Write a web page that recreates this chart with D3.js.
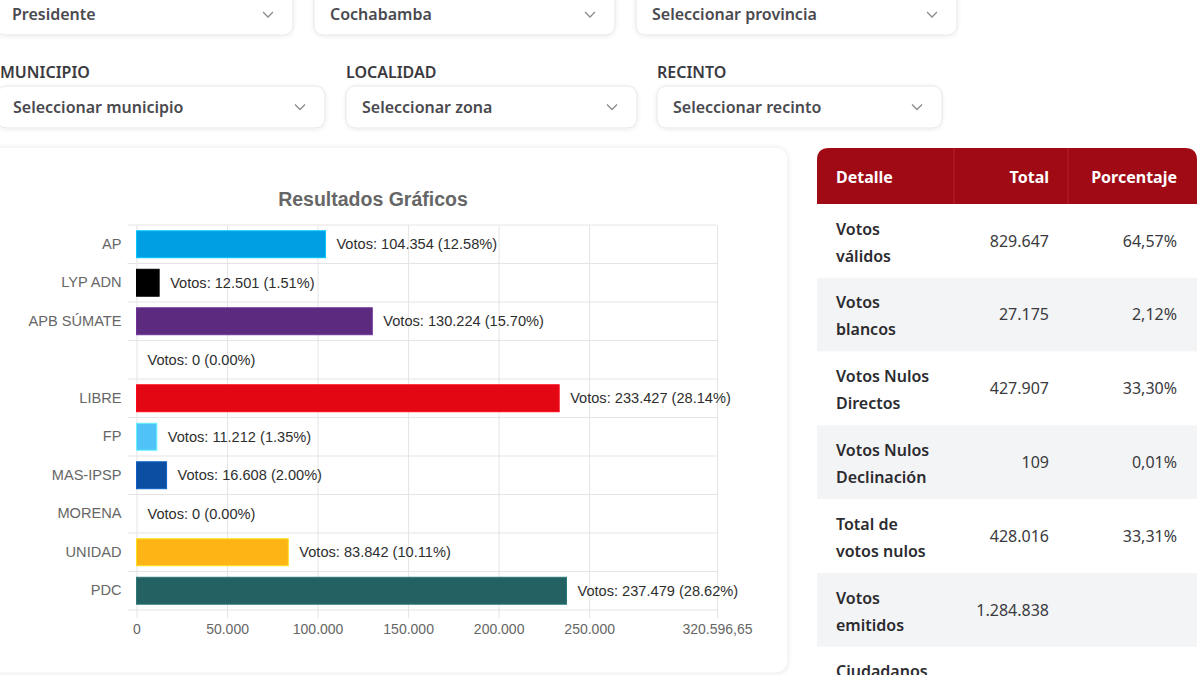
<!DOCTYPE html>
<html>
<head>
<meta charset="utf-8">
<script src="https://cdn.jsdelivr.net/npm/d3@7"></script>
<style>
  html, body { margin: 0; padding: 0; background: #fff; overflow: hidden; }
  svg { display: block; }
</style>
</head>
<body>
<div id="page"></div>
<script>
// Chart data
const partidos = ["AP", "LYP ADN", "APB SÚMATE", "", "LIBRE", "FP", "MAS-IPSP", "MORENA", "UNIDAD", "PDC"];
const votos = [104354, 12501, 130224, 0, 233427, 11212, 16608, 0, 83842, 237479];
const porcentajes = [12.58, 1.51, 15.70, 0.00, 28.14, 1.35, 2.00, 0.00, 10.11, 28.62];
const colores = ["#009FE3", "#000000", "#5C2A7E", "#999999", "#E30613", "#4FC3F7", "#0B4EA2", "#999999", "#FDB515", "#246163"];
const xTicks = [0, 50000, 100000, 150000, 200000, 250000, 320596.65];
const xTickLabels = ["0", "50.000", "100.000", "150.000", "200.000", "250.000", "320.596,65"];

// Table data
const detalles = [["Votos", "válidos"], ["Votos", "blancos"], ["Votos Nulos", "Directos"],
  ["Votos Nulos", "Declinación"], ["Total de", "votos nulos"], ["Votos", "emitidos"], ["Ciudadanos", "habilitados"]];
const totales = ["829.647", "27.175", "427.907", "109", "428.016", "1.284.838", ""];
const porcentajesTabla = ["64,57%", "2,12%", "33,30%", "0,01%", "33,31%", "", ""];
const encabezados = ["Detalle", "Total", "Porcentaje"];

// Filter selects
const selectLabels = [null, null, null, "MUNICIPIO", "LOCALIDAD", "RECINTO"];
const selectTexts = ["Presidente", "Cochabamba", "Seleccionar provincia",
  "Seleccionar municipio", "Seleccionar zona", "Seleccionar recinto"];

const width = 1200;
const height = 675;
const uiFont = "'Noto Sans', 'Open Sans', sans-serif";
const chartFont = "'Liberation Sans', Arial, sans-serif";

const svg = d3.select("#page")
  .append("svg")
  .attr("width", width)
  .attr("height", height);

// soft shadow for cards
const defs = svg.append("defs");
const shadow = defs.append("filter").attr("id", "shadow")
  .attr("x", "-10%").attr("y", "-10%").attr("width", "120%").attr("height", "120%");
shadow.append("feDropShadow")
  .attr("dx", 0).attr("dy", 1).attr("stdDeviation", 2)
  .attr("flood-color", "#000").attr("flood-opacity", 0.08);

// ---------- select boxes ----------
const selectBoxes = [
  { x: -4, y: -10, w: 297, h: 45 },
  { x: 314, y: -10, w: 301, h: 45 },
  { x: 636, y: -10, w: 321, h: 45 },
  { x: -3, y: 86, w: 328, h: 42 },
  { x: 346, y: 86, w: 291, h: 42 },
  { x: 657, y: 86, w: 285, h: 42 }
];
const labelX = [null, null, null, 0, 346, 657];

selectBoxes.forEach((b, i) => {
  const g = svg.append("g");
  g.append("rect")
    .attr("x", b.x).attr("y", b.y)
    .attr("width", b.w).attr("height", b.h)
    .attr("rx", 9)
    .attr("fill", "#fff")
    .attr("stroke", "#e6e7ea")
    .attr("filter", "url(#shadow)");
  const cy = b.y + b.h / 2 + (i < 3 ? 2 : 0);
  g.append("text")
    .attr("x", b.x + 16)
    .attr("y", cy)
    .attr("dy", "0.35em")
    .attr("font-family", uiFont)
    .attr("font-weight", 600)
    .attr("font-size", 16)
    .attr("fill", "#4a4a4f")
    .text(selectTexts[i]);
  // chevron
  const chx = b.x + b.w - 25;
  g.append("path")
    .attr("d", `M${chx - 5},${cy - 2.5} L${chx},${cy + 2.5} L${chx + 5},${cy - 2.5}`)
    .attr("fill", "none")
    .attr("stroke", "#8a8a90")
    .attr("stroke-width", 1.3);
  if (selectLabels[i]) {
    svg.append("text")
      .attr("x", labelX[i])
      .attr("y", 72)
      .attr("dy", "0.35em")
      .attr("font-family", uiFont)
      .attr("font-weight", 600)
      .attr("font-size", 16)
      .attr("fill", "#3a3a40")
      .text(selectLabels[i]);
  }
});

// ---------- chart card ----------
svg.append("rect")
  .attr("x", -10).attr("y", 147)
  .attr("width", 798).attr("height", 526)
  .attr("rx", 12)
  .attr("fill", "#fff")
  .attr("stroke", "#efefef")
  .attr("filter", "url(#shadow)");

const plot = { left: 136.5, right: 717, top: 225, bottom: 610 };

const x = d3.scaleLinear()
  .domain([0, xTicks[xTicks.length - 1]])
  .range([plot.left, plot.right]);

const y = d3.scaleBand()
  .domain(partidos)
  .range([plot.top, plot.bottom])
  .paddingInner(0.3)
  .paddingOuter(0.15);

const locale = d3.formatLocale({ decimal: ",", thousands: ".", grouping: [3], currency: ["", ""] });
const fmt = locale.format(",d");

// title
svg.append("text")
  .attr("x", 373)
  .attr("y", 199)
  .attr("dy", "0.35em")
  .attr("text-anchor", "middle")
  .attr("font-family", chartFont)
  .attr("font-weight", "bold")
  .attr("font-size", 19.5)
  .attr("fill", "#666")
  .text("Resultados Gráficos");

// horizontal grid lines (category boundaries)
const step = y.step();
const gridY = d3.range(partidos.length + 1).map(i => plot.top + i * step);
svg.append("g")
  .selectAll("line")
  .data(gridY)
  .join("line")
  .attr("x1", plot.left - 9)
  .attr("x2", plot.right)
  .attr("y1", d => d)
  .attr("y2", d => d)
  .attr("stroke", "#e5e5e5")
  .attr("stroke-width", 1);

// x axis with grid lines
const xAxis = svg.append("g")
  .attr("transform", `translate(0,${plot.bottom})`)
  .call(d3.axisBottom(x)
    .tickValues(xTicks)
    .tickFormat((d, i) => xTickLabels[i])
    .tickSize(-(plot.bottom - plot.top))
    .tickPadding(14));
xAxis.select(".domain").remove();
xAxis.selectAll(".tick line")
  .attr("stroke", "#e5e5e5")
  .attr("y1", -(plot.bottom - plot.top))
  .attr("y2", 8);
xAxis.selectAll(".tick text")
  .attr("font-family", chartFont)
  .attr("font-size", 14)
  .attr("fill", "#666");

// y axis labels
const yAxis = svg.append("g")
  .attr("transform", `translate(${plot.left},0)`)
  .call(d3.axisLeft(y).tickSize(0).tickPadding(15));
yAxis.select(".domain").remove();
yAxis.selectAll(".tick text")
  .attr("font-family", chartFont)
  .attr("font-size", 14.6)
  .attr("fill", "#666");

// bars
const rows = partidos.map((p, i) => ({ partido: p, votos: votos[i], pct: porcentajes[i], color: colores[i] }));

svg.append("g")
  .selectAll("rect")
  .data(rows.filter(d => d.votos > 0))
  .join("rect")
  .attr("x", x(0))
  .attr("y", d => y(d.partido))
  .attr("width", d => x(d.votos) - x(0))
  .attr("height", y.bandwidth())
  .attr("fill", d => d.color)
  .attr("stroke", d => d3.color(d.color).brighter(0.6))
  .attr("stroke-width", 1);

// value labels
svg.append("g")
  .selectAll("text")
  .data(rows)
  .join("text")
  .attr("x", d => x(d.votos) + 11)
  .attr("y", d => y(d.partido) + y.bandwidth() / 2)
  .attr("dy", "0.35em")
  .attr("font-family", chartFont)
  .attr("font-size", 14.6)
  .attr("fill", "#2e2e2e")
  .text(d => `Votos: ${fmt(d.votos)} (${d.pct.toFixed(2)}%)`);

// ---------- summary table ----------
const table = { x: 817, y: 148, w: 380, headH: 56, rowH: 73.8 };
const colRight = [null, 1049, 1177];

const tableG = svg.append("g");
tableG.append("path")
  .attr("d", `M${table.x},${table.y + table.headH} V${table.y + 12} Q${table.x},${table.y} ${table.x + 12},${table.y}
    H${table.x + table.w - 12} Q${table.x + table.w},${table.y} ${table.x + table.w},${table.y + 12} V${table.y + table.headH} Z`)
  .attr("fill", "#A00A14");

// faint column separators in header
[954, 1068].forEach(sx => {
  tableG.append("line")
    .attr("x1", sx).attr("x2", sx)
    .attr("y1", table.y).attr("y2", table.y + table.headH)
    .attr("stroke", "#b3222b").attr("stroke-width", 1);
});

encabezados.forEach((h, i) => {
  tableG.append("text")
    .attr("x", i === 0 ? 836 : colRight[i])
    .attr("y", table.y + table.headH / 2 + 1)
    .attr("dy", "0.35em")
    .attr("text-anchor", i === 0 ? "start" : "end")
    .attr("font-family", uiFont)
    .attr("font-weight", 700)
    .attr("font-size", 16)
    .attr("fill", "#fff")
    .text(h);
});

const bodyTop = table.y + table.headH;
const tableRows = tableG.selectAll("g.fila")
  .data(detalles)
  .join("g")
  .attr("class", "fila")
  .attr("transform", (d, i) => `translate(0,${bodyTop + i * table.rowH})`);

tableRows.append("rect")
  .attr("x", table.x)
  .attr("width", table.w)
  .attr("height", table.rowH)
  .attr("fill", (d, i) => i % 2 === 0 ? "#ffffff" : "#f3f4f6");

tableRows.append("text")
  .attr("font-family", uiFont)
  .attr("font-weight", 600)
  .attr("font-size", 16)
  .attr("fill", "#2b2b30")
  .selectAll("tspan")
  .data(d => d)
  .join("tspan")
  .attr("x", 836)
  .attr("y", (d, j) => 25 + j * 27)
  .attr("dy", "0.35em")
  .text(d => d);

tableRows.append("text")
  .attr("x", colRight[1])
  .attr("y", 37)
  .attr("dy", "0.35em")
  .attr("text-anchor", "end")
  .attr("font-family", uiFont)
  .attr("font-size", 16)
  .attr("fill", "#3a3a40")
  .text((d, i) => totales[i]);

tableRows.append("text")
  .attr("x", colRight[2])
  .attr("y", 37)
  .attr("dy", "0.35em")
  .attr("text-anchor", "end")
  .attr("font-family", uiFont)
  .attr("font-size", 16)
  .attr("fill", "#3a3a40")
  .text((d, i) => porcentajesTabla[i]);
</script>
</body>
</html>
